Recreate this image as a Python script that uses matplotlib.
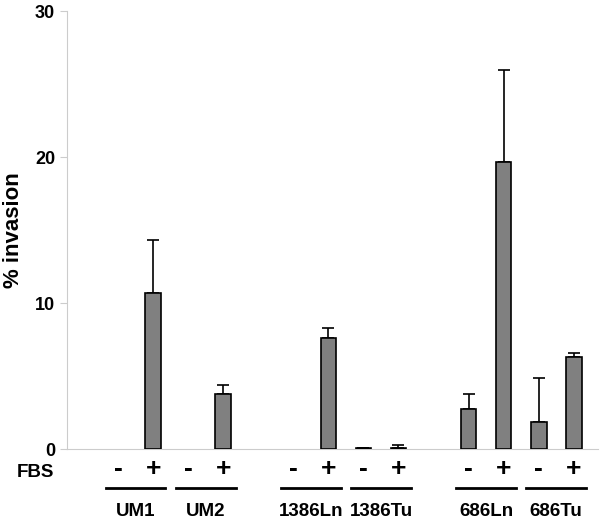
import numpy as np
import matplotlib.pyplot as plt

# data
groups = ["UM1", "UM2", "1386Ln", "1386Tu", "686Ln", "686Tu"]
fbs = ["-", "+"]
minus_vals = [0, 0, 0, 0.04, 2.75, 1.85]
minus_err = [0, 0, 0, 0, 1.05, 3.0]
plus_vals = [10.7, 3.75, 7.6, 0.1, 19.65, 6.3]
plus_err = [3.65, 0.65, 0.7, 0.15, 6.3, 0.25]

plt.rcParams['font.family'] = ['Liberation Sans', 'DejaVu Sans']

# bar positions: pairs, with a gap after every second group
pos = [0, 2, 5, 7, 10, 12]
x_minus = np.array(pos, dtype=float)
x_plus = x_minus + 1

fig = plt.figure(figsize=(6, 5.24), dpi=100)
ax = fig.add_axes([0.1117, 0.143, 0.8853, 0.836])

w = 0.45
bar_kw = dict(width=w, color="#808080", edgecolor="black", linewidth=1.2, zorder=3)
err_kw = dict(ecolor="black", elinewidth=1.2, capsize=4, capthick=1.2, zorder=2)
show = [v > 0 for v in minus_vals]
ax.bar(x_minus[show], np.array(minus_vals)[show],
       yerr=[np.zeros(sum(show)), np.array(minus_err)[show]], error_kw=err_kw, **bar_kw)
ax.bar(x_plus, plus_vals, yerr=[np.zeros(len(plus_vals)), plus_err], error_kw=err_kw, **bar_kw)

ax.set_xlim(-1.46, 13.7)
ax.set_ylim(0, 30)
ax.set_yticks([0, 10, 20, 30])
for s in ["top", "right"]:
    ax.spines[s].set_visible(False)
ax.spines["left"].set_color("#cccccc")
ax.spines["bottom"].set_color("#cccccc")
ax.tick_params(axis="y", colors="#cccccc", length=5, labelsize=13, labelcolor="black")
for lab in ax.get_yticklabels():
    lab.set_fontweight("bold")
ax.set_xticks([])
ax.set_ylabel("% invasion", fontsize=16, fontweight="bold", labelpad=8)

tr = ax.get_xaxis_transform()
ax.text(-2.37, -0.053, "FBS", transform=tr, ha="center", va="center",
        fontsize=13.5, fontweight="bold", clip_on=False)
for i, g in enumerate(groups):
    ax.text(x_minus[i], -0.045, fbs[0], transform=tr, ha="center", va="center",
            fontsize=19, fontweight="bold", clip_on=False)
    ax.text(x_plus[i], -0.045, fbs[1], transform=tr, ha="center", va="center",
            fontsize=19, fontweight="bold", clip_on=False)
    c = (x_minus[i] + x_plus[i]) / 2
    ax.plot([c - 0.85, c + 0.85], [-0.09, -0.09], transform=tr, color="black",
            lw=2, clip_on=False)
    ax.text(c, -0.142, g, transform=tr, ha="center", va="center",
            fontsize=13.5, fontweight="bold", clip_on=False)

fig.savefig("out.png", dpi=100)
